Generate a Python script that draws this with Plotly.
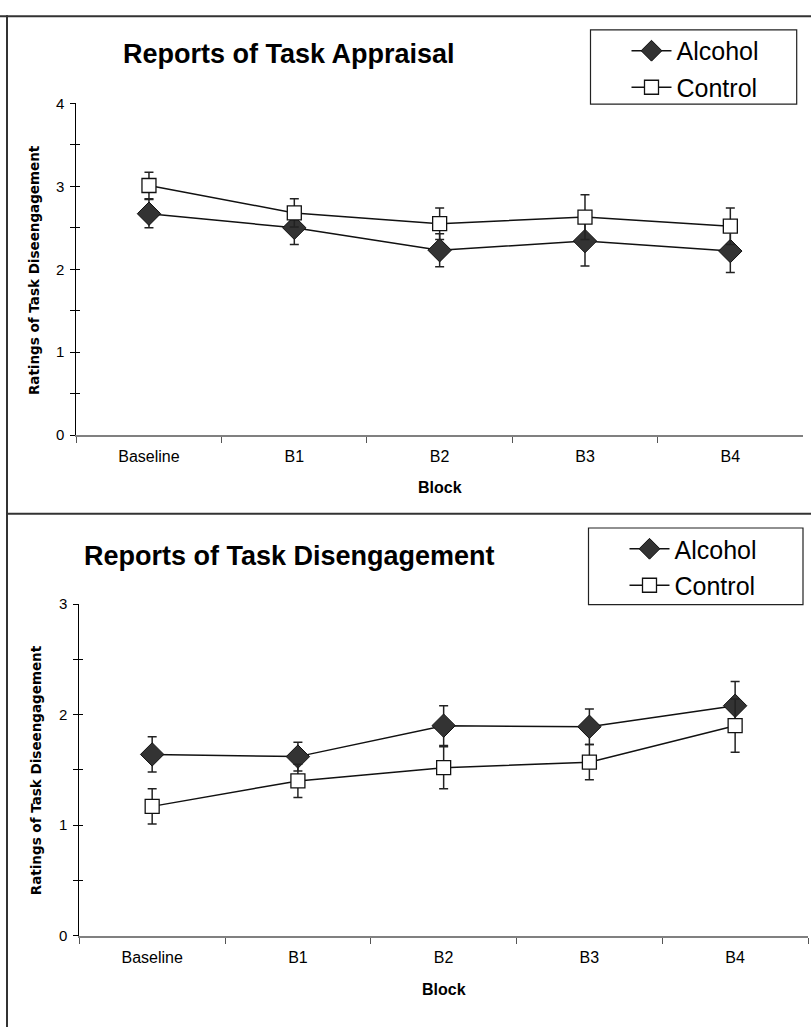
import plotly.graph_objects as go

# ---- data ----
blocks = ["Baseline", "B1", "B2", "B3", "B4"]

appraisal_alcohol = [2.67, 2.50, 2.23, 2.34, 2.22]
appraisal_alcohol_se = [0.17, 0.20, 0.20, 0.30, 0.26]
appraisal_control = [3.01, 2.68, 2.55, 2.63, 2.52]
appraisal_control_se = [0.16, 0.17, 0.19, 0.27, 0.22]

diseng_alcohol = [1.64, 1.62, 1.90, 1.89, 2.08]
diseng_alcohol_se = [0.16, 0.13, 0.18, 0.16, 0.22]
diseng_control = [1.17, 1.40, 1.52, 1.57, 1.90]
diseng_control_se = [0.16, 0.15, 0.19, 0.16, 0.24]

titles = ["Reports of Task Appraisal", "Reports of Task Disengagement"]
y_title = "Ratings of Task Diseengagement"
x_title = "Block"

W, H = 811, 1030
FONT = "Liberation Sans, Arial, sans-serif"


def px(x):
    return x / W


def py(y):
    return 1 - y / H


def series(name, xa, ya, y, se, alcohol, legend):
    if alcohol:
        marker = dict(symbol="diamond", size=18, color="#333333",
                      line=dict(color="#111111", width=1))
    else:
        marker = dict(symbol="square", size=14, color="white",
                      line=dict(color="#111111", width=1.3))
    return go.Scatter(
        x=blocks, y=y, name=name, mode="lines+markers",
        xaxis=xa, yaxis=ya, legend=legend, legendgroup=legend + name,
        line=dict(color="#111111", width=1.5),
        marker=marker,
        error_y=dict(type="data", array=se, visible=True,
                     color="#222222", thickness=1.5, width=4.5),
    )


fig = go.Figure()
fig.add_trace(series("Alcohol", "x", "y", appraisal_alcohol, appraisal_alcohol_se, True, "legend"))
fig.add_trace(series("Control", "x", "y", appraisal_control, appraisal_control_se, False, "legend"))
fig.add_trace(series("Alcohol", "x2", "y2", diseng_alcohol, diseng_alcohol_se, True, "legend2"))
fig.add_trace(series("Control", "x2", "y2", diseng_control, diseng_control_se, False, "legend2"))
# empty traces so the overlay axes (inner halves of the crossing ticks) get drawn
fig.add_trace(go.Scatter(x=[], y=[], xaxis="x", yaxis="y3", showlegend=False))
fig.add_trace(go.Scatter(x=[], y=[], xaxis="x2", yaxis="y4", showlegend=False))

panels = [
    # x0, x1, y_top, y_bottom (pixels), y max
    dict(x0=76.3, x1=803, yt=96, yb=433.3, ymax=4),
    dict(x0=79.3, x1=808, yt=605, yb=942.3, ymax=3),
]

layout = dict(
    width=W, height=H, margin=dict(l=0, r=0, t=0, b=0),
    paper_bgcolor="white", plot_bgcolor="white",
    font=dict(family=FONT, color="black"),
    showlegend=True,
)

for i, p in enumerate(panels):
    xn = "xaxis" if i == 0 else "xaxis2"
    yn = "yaxis" if i == 0 else "yaxis2"
    yo = "yaxis3" if i == 0 else "yaxis4"
    xref = "x" if i == 0 else "x2"
    yref = "y" if i == 0 else "y2"
    dom_y = [py(p["yb"]), py(p["yt"])]
    layout[xn] = dict(
        domain=[px(p["x0"]), px(p["x1"])], anchor=yref,
        type="category", categoryorder="array", categoryarray=blocks,
        range=[-0.5, 4.5], tickson="boundaries",
        ticks="outside", ticklen=6, tickwidth=1, tickcolor="#555555",
        showline=True, linecolor="#808080", linewidth=2,
        showgrid=False, zeroline=False,
        tickfont=dict(size=16, family=FONT), ticklabelstandoff=6,
        fixedrange=True,
    )
    layout[yn] = dict(
        domain=dom_y, anchor=xref, range=[0, p["ymax"]],
        tick0=0, dtick=1, ticks="outside", ticklen=5, tickwidth=1, tickcolor="black",
        minor=dict(dtick=0.5, ticks="outside", ticklen=5, tickwidth=1, tickcolor="black"),
        showline=True, linecolor="black", linewidth=1,
        showgrid=False, zeroline=False,
        tickfont=dict(size=15, family=FONT), ticklabelstandoff=3,
        fixedrange=True,
    )
    layout[yo] = dict(
        overlaying=yref, matches=yref, anchor=xref, side="left",
        range=[0, p["ymax"]], tick0=0, dtick=1,
        ticks="inside", ticklen=4, tickwidth=1, tickcolor="black",
        minor=dict(dtick=0.5, ticks="inside", ticklen=4, tickwidth=1, tickcolor="black"),
        showticklabels=False, showline=False, showgrid=False, zeroline=False,
        fixedrange=True,
    )

# legends sit inside drawn frames
legend_boxes = [(590.5, 21.3, 796.7, 96.7), (588.5, 527.7, 803, 605.7)]
for i, (lx0, ly0, lx1, ly1) in enumerate(legend_boxes):
    key = "legend" if i == 0 else "legend2"
    layout[key] = dict(
        x=px(lx0 + 36), y=py(ly0 - 2), xanchor="left", yanchor="top",
        bgcolor="rgba(0,0,0,0)", borderwidth=0,
        font=dict(size=25, family=FONT, color="black"),
        itemwidth=40, tracegroupgap=1,
    )

fig.update_layout(**layout)

shapes = []
line_style = dict(color="#333333", width=2)
# outer frame and divider between the two panels
shapes.append(dict(type="line", xref="paper", yref="paper",
                   x0=px(0), x1=px(W), y0=py(7.3), y1=py(7.3), line=line_style))
shapes.append(dict(type="line", xref="paper", yref="paper",
                   x0=px(7), x1=px(7), y0=py(6.3), y1=py(H + 5), line=line_style))
shapes.append(dict(type="line", xref="paper", yref="paper",
                   x0=px(6), x1=px(W), y0=py(513.3), y1=py(513.3), line=line_style))
for (lx0, ly0, lx1, ly1) in legend_boxes:
    shapes.append(dict(type="rect", xref="paper", yref="paper",
                       x0=px(lx0), x1=px(lx1), y0=py(ly1), y1=py(ly0),
                       line=dict(color="#222222", width=1.2), fillcolor="rgba(0,0,0,0)"))
fig.update_layout(shapes=shapes)

annotations = []
title_pos = [(289, 45.5), (289.5, 556)]
block_pos = [(439.7, 487), (443.6, 996.7)]
ytitle_pos = [(33.5, 266), (36, 774)]
for i in range(2):
    annotations.append(dict(
        text=f"<b>{titles[i]}</b>", xref="paper", yref="paper",
        x=px(title_pos[i][0]), y=py(title_pos[i][1]), xanchor="center", yanchor="middle",
        showarrow=False, font=dict(size=27, family=FONT, color="black")))
    annotations.append(dict(
        text=f"<b>{x_title}</b>", xref="paper", yref="paper",
        x=px(block_pos[i][0]), y=py(block_pos[i][1]), xanchor="center", yanchor="middle",
        showarrow=False, font=dict(size=16, family=FONT, color="black")))
    annotations.append(dict(
        text=f"<b>{y_title}</b>", xref="paper", yref="paper",
        x=px(ytitle_pos[i][0]), y=py(ytitle_pos[i][1]), xanchor="center", yanchor="middle",
        textangle=-90, showarrow=False,
        font=dict(size=13.5, family="DejaVu Sans, sans-serif", color="black")))
fig.update_layout(annotations=annotations)

fig.write_html("out.html")
